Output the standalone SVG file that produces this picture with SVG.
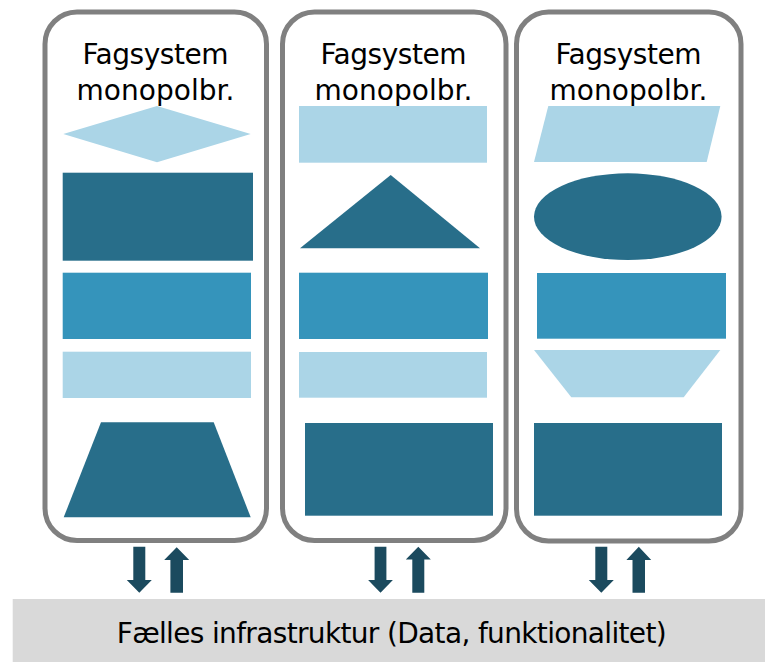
<svg xmlns="http://www.w3.org/2000/svg" width="765" height="662" viewBox="0 0 765 662">
<style>
.panel{fill:#ffffff;stroke:#808080;stroke-width:5}
.dark{fill:#286E8A}
.mid{fill:#3594BB}
.light{fill:#ABD5E7}
.arrow{fill:#1B4A5E}
.title{font-family:"DejaVu Sans","Liberation Sans",sans-serif;font-size:28px;fill:#000000;text-anchor:middle}
.bar{fill:#D9D9D9}
</style>
<rect width="765" height="662" fill="#ffffff"/>
<g id="panel1">
<rect class="panel" x="45" y="12" width="221.5" height="528.5" rx="32"/>
<text class="title" x="155.5" y="63.5" textLength="146">Fagsystem</text>
<text class="title" x="155.5" y="100" textLength="158">monopolbr.</text>
<polygon class="light" points="63.3,134 157,106 250.7,134 157,162.3"/>
<rect class="dark" x="62.7" y="172.7" width="190.3" height="88"/>
<rect class="mid" x="62.7" y="272.7" width="188.3" height="66.3"/>
<rect class="light" x="62.7" y="351.7" width="188.3" height="46.3"/>
<polygon class="dark" points="101,422.3 213.7,422.3 250.7,517.3 63.7,517.3"/>
</g>
<g id="panel2">
<rect class="panel" x="282.5" y="12" width="223.5" height="528.5" rx="32"/>
<text class="title" x="393.5" y="63.5" textLength="146">Fagsystem</text>
<text class="title" x="393.5" y="100" textLength="158">monopolbr.</text>
<rect class="light" x="299" y="106" width="188" height="56.7"/>
<polygon class="dark" points="390.7,175 480,248.3 300,248.3"/>
<rect class="mid" x="299" y="272.7" width="189" height="66.3"/>
<rect class="light" x="299" y="352" width="188" height="45.7"/>
<rect class="dark" x="305" y="423" width="188" height="92.7"/>
</g>
<g id="panel3">
<rect class="panel" x="516.5" y="12" width="224.5" height="529" rx="32"/>
<text class="title" x="628.5" y="64" textLength="146">Fagsystem</text>
<text class="title" x="628.5" y="100" textLength="158">monopolbr.</text>
<polygon class="light" points="548.3,106 720.3,106 706.7,162 534,162"/>
<ellipse class="dark" cx="627.8" cy="216.7" rx="93.8" ry="43.4"/>
<rect class="mid" x="537" y="273" width="189" height="65.7"/>
<polygon class="light" points="534,350 720.3,350 683.7,397.3 571.3,397.3"/>
<rect class="dark" x="534" y="423" width="188" height="92.7"/>
</g>
<g id="infrastructure">
<rect class="bar" x="12.7" y="599" width="752.3" height="63"/>
<text class="title" x="391.7" y="643.3" textLength="550">Fælles infrastruktur (Data, funktionalitet)</text>
</g>
<g id="connectors">
<polygon class="arrow" points="133.3,546.7 145.3,546.7 145.3,580 151.8,580 139.3,592.7 126.8,580 133.3,580"/>
<polygon class="arrow" points="176.7,547.3 189.2,560 183,560 183,592.7 170.4,592.7 170.4,560 164.2,560"/>
<polygon class="arrow" points="374.6,546.7 386.4,546.7 386.4,580 392.9,580 380.5,592.7 368.1,580 374.6,580"/>
<polygon class="arrow" points="418.3,546.7 430.8,559.5 424.3,559.5 424.3,592.7 412.3,592.7 412.3,559.5 405.8,559.5"/>
<polygon class="arrow" points="595.3,546.7 607.3,546.7 607.3,580 613.8,580 601.3,592.7 588.8,580 595.3,580"/>
<polygon class="arrow" points="638.8,546.7 651.2,560 645,560 645,592.7 632.5,592.7 632.5,560 626.4,560"/>
</g>
</svg>
